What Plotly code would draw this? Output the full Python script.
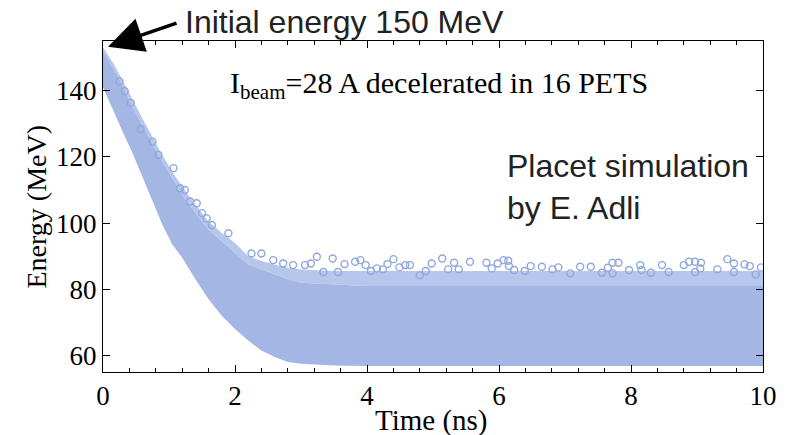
import plotly.graph_objects as go

# Envelope of the dense particle cloud (time in ns, energy in MeV)
t_env = [0, 0.15, 0.3, 0.45, 0.6, 0.75, 0.9, 1.05, 1.2, 1.4, 1.6, 1.8, 2.0, 2.2, 2.4, 2.6, 2.8, 3.0, 3.5, 4, 5, 6, 7, 8, 9, 10]
e_upper = [152, 147, 141.5, 135, 129.5, 124, 118.5, 113.5, 108.5, 103, 98, 94.5, 91, 87.5, 86, 84.5, 83, 82, 81.5, 81, 81, 81, 81, 81, 81, 81]
e_semi = [153, 148.5, 143, 137, 131.5, 126, 120.5, 115.5, 111, 105.5, 100.5, 97, 94, 90, 88.5, 87.5, 86.5, 86, 85.5, 85.5, 85.5, 85.5, 85.5, 85.5, 85.5, 85.5]
e_lower = [141, 134, 127.5, 121, 114, 106.5, 99.5, 93.5, 89.5, 83, 77, 72, 68, 64.5, 61.5, 59.5, 58, 57.5, 57, 56.8, 56.8, 56.8, 56.8, 56.8, 56.8, 56.8]

# Individual particles visible above the dense cloud
t_out = [0.25, 0.33, 0.42, 0.57, 0.75, 0.84, 1.07, 1.17, 1.24, 1.32, 1.42, 1.5, 1.57, 1.65, 1.9, 2.25, 2.4, 2.58, 2.73, 2.88,
         3.06, 3.15, 3.24, 3.34, 3.48, 3.56, 3.66, 3.82, 3.9, 3.98, 4.06, 4.15, 4.24, 4.31, 4.4, 4.49, 4.58, 4.65, 4.8, 4.89,
         4.98, 5.14, 5.23, 5.32, 5.39, 5.56, 5.81, 5.89, 5.98, 6.07, 6.14, 6.15, 6.23, 6.39, 6.48, 6.65, 6.81, 6.9, 7.08, 7.23,
         7.39, 7.56, 7.65, 7.72, 7.72, 7.81, 7.97, 8.14, 8.16, 8.3, 8.47, 8.57, 8.8, 8.88, 8.97, 8.97, 9.05, 9.06, 9.31, 9.46,
         9.56, 9.56, 9.72, 9.8, 9.89, 9.97]
e_out = [142.8, 139.8, 136.3, 128.4, 124.6, 120.6, 116.6, 110.5, 110.0, 106.5, 106.0, 103.0, 101.4, 99.4, 96.9, 90.8, 90.8, 88.8, 87.8, 87.3,
         87.3, 87.8, 89.8, 85.2, 89.3, 85.2, 87.6, 88.3, 88.8, 87.3, 85.5, 86.3, 86.0, 87.6, 89.1, 86.6, 87.3, 87.3, 84.2, 85.5,
         87.8, 89.3, 86.0, 88.0, 86.0, 88.3, 88.0, 86.3, 87.8, 88.8, 88.6, 87.0, 85.8, 85.5, 87.0, 86.8, 86.0, 86.6, 84.8, 86.8,
         86.8, 85.0, 86.5, 88.0, 84.8, 88.0, 85.8, 87.3, 85.8, 85.0, 87.3, 85.2, 87.3, 88.3, 88.3, 85.2, 86.3, 88.0, 86.0, 89.1,
         87.8, 85.2, 87.5, 87.0, 84.5, 86.6]

x_ticks = [0, 2, 4, 6, 8, 10]
y_ticks = [60, 80, 100, 120, 140]

band_color = "#A4B6E3"
semi_color = "#B7C6EB"
marker_color = "#8FA7DF"

fig = go.Figure()
fig.add_trace(go.Scatter(x=t_env, y=e_upper, mode="lines", line=dict(width=0, color=semi_color),
                         showlegend=False, hoverinfo="skip"))
fig.add_trace(go.Scatter(x=t_env, y=e_semi, mode="lines", line=dict(width=0, color=semi_color),
                         fill="tonexty", fillcolor=semi_color, showlegend=False, hoverinfo="skip"))
fig.add_trace(go.Scatter(x=t_env, y=e_lower, mode="lines", line=dict(width=0, color=band_color),
                         showlegend=False, hoverinfo="skip"))
fig.add_trace(go.Scatter(x=t_env, y=e_upper, mode="lines", line=dict(width=0, color=band_color),
                         fill="tonexty", fillcolor=band_color, showlegend=False, hoverinfo="skip"))
fig.add_trace(go.Scatter(x=t_out, y=e_out, mode="markers",
                         marker=dict(symbol="circle-open", size=7, line=dict(width=1.4, color=marker_color), color=marker_color),
                         showlegend=False))

serif = "Liberation Serif, Times New Roman, serif"
sans = "Liberation Sans, Arial, sans-serif"

fig.update_layout(
    width=791, height=435,
    margin=dict(l=103, r=28, t=41, b=63),
    paper_bgcolor="white", plot_bgcolor="white",
    font=dict(family=serif, size=28, color="black"),
    xaxis=dict(range=[0, 10], tickvals=x_ticks, ticks="inside", ticklen=7, tickwidth=1, tickcolor="black",
               showline=True, linecolor="black", linewidth=1, mirror="ticks", showgrid=False, zeroline=False,
               minor=dict(dtick=0.4, ticks="inside", ticklen=4, tickcolor="black", showgrid=False),
               tickfont=dict(family=serif, size=27)),
    yaxis=dict(range=[55, 155], tickvals=y_ticks, ticks="inside", ticklen=7, tickwidth=1, tickcolor="black",
               showline=True, linecolor="black", linewidth=1, mirror="ticks", showgrid=False, zeroline=False,
               tickfont=dict(family=serif, size=27)),
)

annotations = [
    dict(text="Energy (MeV)", xref="paper", yref="paper", x=-0.1015, y=0.5, textangle=-90,
         showarrow=False, font=dict(family=serif, size=28), xanchor="center", yanchor="middle"),
    dict(text="Time (ns)", xref="paper", yref="paper", x=0.498, y=-0.148,
         showarrow=False, font=dict(family=serif, size=29), xanchor="center", yanchor="middle"),
    dict(text="Initial energy 150 MeV", xref="paper", yref="paper", x=0.121, y=1.057,
         showarrow=False, font=dict(family=sans, size=32, color="#222"), xanchor="left", yanchor="middle"),
    dict(text="", x=0.076, y=153.3, xref="x", yref="y", showarrow=True, ax=70, ay=-24,
         arrowhead=2, arrowsize=2.0, arrowwidth=3.5, arrowcolor="black", standoff=0),
    dict(text="I<sub>beam</sub>=28 A decelerated in 16 PETS", xref="paper", yref="paper", x=0.189, y=0.867,
         showarrow=False, font=dict(family=serif, size=30), xanchor="left", yanchor="middle"),
    dict(text="Placet simulation", xref="paper", yref="paper", x=0.609, y=0.622,
         showarrow=False, font=dict(family=sans, size=32, color="#222"), xanchor="left", yanchor="middle"),
    dict(text="by E. Adli", xref="paper", yref="paper", x=0.609, y=0.495,
         showarrow=False, font=dict(family=sans, size=32, color="#222"), xanchor="left", yanchor="middle"),
]
fig.update_layout(annotations=annotations)

fig.write_html("out.html")
